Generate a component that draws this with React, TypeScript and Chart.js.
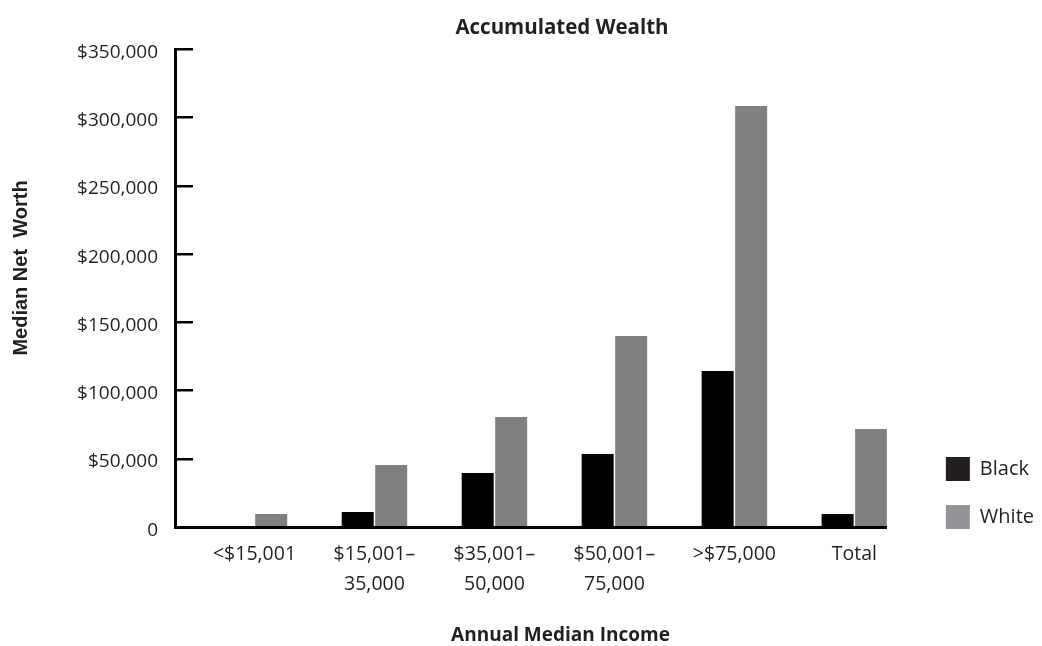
import React, { useEffect, useRef } from "react";
import { Chart, registerables } from "chart.js";

Chart.register(...registerables);

// ---------- data ----------
const CATEGORIES: (string | string[])[] = [
  "<$15,001",
  ["$15,001–", "35,000"],
  ["$35,001–", "50,000"],
  ["$50,001–", "75,000"],
  ">$75,000",
  "Total",
];
const SERIES_NAMES = ["Black", "White"];
const BLACK_VALUES = [0, 11200, 39800, 53700, 114400, 9700];
const WHITE_VALUES = [9700, 45600, 80800, 140000, 308500, 72000];
const Y_TICKS = [0, 50000, 100000, 150000, 200000, 250000, 300000, 350000];

const TITLE = "Accumulated Wealth";
const X_TITLE = "Annual Median Income";
const Y_TITLE = "Median Net  Worth";

// ---------- styles ----------
const BAR_COLORS = ["#000000", "#808080"];
const LEGEND_COLORS = ["#231f20", "#939598"];
const TEXT = "#231f20";
const FONT = "'Open Sans', 'Noto Sans', sans-serif";

const titlesPlugin = {
  id: "customTitles",
  afterDraw(chart: any) {
    const ctx = chart.ctx as CanvasRenderingContext2D;
    ctx.save();
    ctx.fillStyle = TEXT;
    ctx.textAlign = "center";
    ctx.textBaseline = "middle";
    ctx.font = `bold 20.5px ${FONT}`;
    ctx.fillText(TITLE, 562, 28);
    ctx.font = `bold 19px ${FONT}`;
    ctx.fillText(X_TITLE, 560.5, 636);
    ctx.translate(21, 268);
    ctx.rotate(-Math.PI / 2);
    ctx.font = `bold 20px 'Liberation Sans', Arial, sans-serif`;
    ctx.fillText(Y_TITLE, 0, 0);
    ctx.restore();
  },
};

export default function App() {
  const canvasRef = useRef<HTMLCanvasElement | null>(null);

  useEffect(() => {
    if (!canvasRef.current) return;
    const chart = new Chart(canvasRef.current, {
      type: "bar",
      data: {
        datasets: [
          {
            label: SERIES_NAMES[0],
            data: BLACK_VALUES.map((v, i) => ({ x: i, y: v })),
            backgroundColor: BAR_COLORS[0],
            xAxisID: "x",
            yAxisID: "y",
          },
          {
            label: SERIES_NAMES[1],
            data: WHITE_VALUES.map((v, i) => ({ x: i, y: v })),
            backgroundColor: BAR_COLORS[1],
            xAxisID: "x",
            yAxisID: "y",
          },
        ] as any,
      },
      options: {
        responsive: false,
        animation: false,
        devicePixelRatio: 1,
        categoryPercentage: 67 / 120,
        barPercentage: 32 / 33.5,
        layout: { padding: { left: 0, top: 49.3, right: -2, bottom: 93 } },
        plugins: {
          title: { display: false },
          tooltip: { enabled: false },
          legend: {
            display: true,
            position: "right",
            align: "end",
            labels: {
              boxWidth: 24,
              boxHeight: 24,
              padding: 24,
              color: TEXT,
              font: { family: FONT, size: 20 },
              generateLabels: () =>
                SERIES_NAMES.map((name, i) => ({
                  text: name,
                  fillStyle: LEGEND_COLORS[i],
                  strokeStyle: LEGEND_COLORS[i],
                  lineWidth: 0,
                  hidden: false,
                  datasetIndex: i,
                  fontColor: TEXT,
                })),
            },
          },
        },
        scales: {
          x: {
            type: "linear",
            position: "bottom",
            min: -0.6583,
            max: 5.2708,
            bounds: "data",
            offset: false,
            grid: { display: false },
            border: { display: true, color: "#000", width: 3, z: 1 },
            afterBuildTicks: (s: any) => {
              s.ticks = CATEGORIES.map((_, i) => ({ value: i }));
            },
            afterFit: (s: any) => {
              s.height = 25.7;
            },
            ticks: {
              autoSkip: false,
              maxRotation: 0,
              minRotation: 0,
              mirror: true,
              padding: -41.7,
              color: TEXT,
              font: { family: FONT, size: 19.5, lineHeight: 30 / 19.5 },
              callback: (value: any) => CATEGORIES[Math.round(Number(value))] as any,
            },
          },
          y: {
            type: "linear",
            position: "left",
            min: 0,
            max: 350000,
            afterBuildTicks: (s: any) => {
              s.ticks = Y_TICKS.map((v) => ({ value: v }));
            },
            afterFit: (s: any) => {
              s.width = 175.5;
            },
            grid: {
              display: true,
              drawOnChartArea: false,
              drawTicks: true,
              tickLength: -17.5,
              lineWidth: 2.5,
              color: "#000",
            },
            border: { display: true, color: "#000", width: 3 },
            ticks: {
              padding: 35,
              labelOffset: 3,
              color: TEXT,
              font: { family: FONT, size: 19 },
              callback: (value: any) =>
                Number(value) === 0 ? "0" : "$" + Number(value).toLocaleString("en-US"),
            },
          },
          y2: {
            type: "linear",
            position: "right",
            display: true,
            grid: { display: false },
            border: { display: false },
            ticks: { display: false },
            afterFit: (s: any) => {
              s.width = 35;
            },
          },
        },
      } as any,
      plugins: [titlesPlugin],
    });
    return () => chart.destroy();
  }, []);

  return (
    <div
      style={{
        position: "fixed",
        left: 0,
        top: 0,
        width: 1042,
        height: 646,
        background: "#fff",
      }}
    >
      <canvas ref={canvasRef} width={1042} height={646} style={{ width: 1042, height: 646 }} />
    </div>
  );
}
